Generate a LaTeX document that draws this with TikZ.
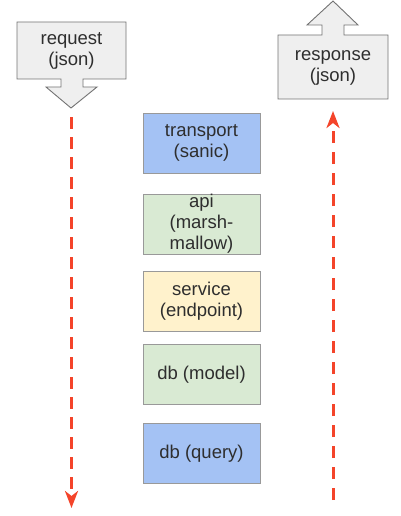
\documentclass[tikz,border=0pt]{standalone}
\usepackage{fontspec}
\setmainfont{Liberation Sans}
\usetikzlibrary{arrows.meta}
\definecolor{layerblue}{HTML}{A4C2F4}
\definecolor{layergreen}{HTML}{D9EAD3}
\definecolor{layeryellow}{HTML}{FFF2CC}
\definecolor{shapegray}{HTML}{EFEFEF}
\definecolor{edgegray}{HTML}{999999}
\definecolor{flowred}{HTML}{F4442A}
\tikzset{
  layer/.style={draw=edgegray, line width=0.9pt, minimum width=117pt, minimum height=60pt,
    inner sep=0pt, align=center, font=\fontsize{18.5}{21}\selectfont, text=black!82},
  arrowshape/.style={draw=black!55, fill=shapegray, line width=0.9pt, line join=miter},
  shapetext/.style={align=center, font=\fontsize{18.5}{21.5}\selectfont, text=black!82, inner sep=0pt},
  flow/.style={draw=flowred, line width=3pt, dash pattern=on 12pt off 8pt,
    -{Stealth[length=17pt,width=13pt,inset=5pt]}}
}
\begin{document}
\begin{tikzpicture}[x=1pt,y=-1pt]
\useasboundingbox (0,0) rectangle (400,516);
% request down-arrow callout
\draw[arrowshape] (17,22) -- (126,22) -- (126,79) -- (83,79) -- (83,87) -- (97,87)
  -- (71,108) -- (46,87) -- (61,87) -- (61,79) -- (17,79) -- cycle;
\node[shapetext] (request) at (71.5,51) {request\\(json)};
% response up-arrow callout
\draw[arrowshape] (278,35) -- (322,35) -- (322,25) -- (307,25) -- (333,1)
  -- (358,25) -- (344,25) -- (344,35) -- (388,35) -- (388,99) -- (278,99) -- cycle;
\node[shapetext] (response) at (333,68) {response\\(json)};
% layers
\node[layer, fill=layerblue] (transport) at (201.5,143) {transport\\(sanic)};
\node[layer, fill=layergreen] (api) at (201.5,224) {api\\(marsh-\\mallow)};
\node[layer, fill=layeryellow] (service) at (201.5,301) {service\\(endpoint)};
\node[layer, fill=layergreen] (model) at (201.5,374.5) {db (model)};
\node[layer, fill=layerblue] (query) at (201.5,453.5) {db (query)};
% flows
\coordinate (downstart) at (71.5,117);
\coordinate (downend) at (71.5,508);
\coordinate (upstart) at (333,500);
\coordinate (upend) at (333,111);
\draw[flow] (downstart) -- (downend);
\draw[flow, dash pattern=on 12pt off 9pt] (upstart) -- (upend);
\end{tikzpicture}
\end{document}
